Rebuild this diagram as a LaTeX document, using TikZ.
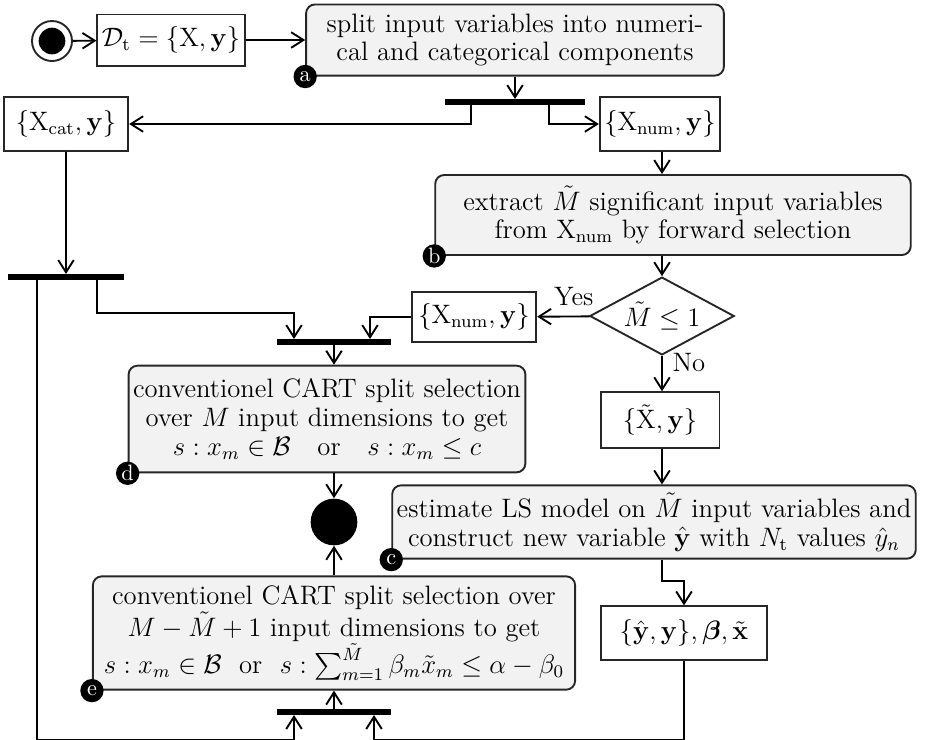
\documentclass[tikz,border=0pt]{standalone}
\usepackage{amsmath,amssymb}
\usetikzlibrary{positioning,arrows.meta,calc,shapes.geometric}

\begin{document}
\begin{tikzpicture}[x=0.45pt,y=-0.45pt,font=\fontsize{12}{13}\selectfont,
 act/.style={draw=black!85,fill=black!5,rounded corners=4pt,line width=0.85pt,align=center,inner sep=2pt},
 obj/.style={draw=black!85,line width=0.85pt,inner sep=2pt},
 cond/.style={diamond,aspect=1.85,draw=black!85,line width=0.85pt,inner sep=0pt,minimum width=65pt,minimum height=35pt},
 bar/.style={fill=black,inner sep=0pt,minimum height=2.3pt},
 lbl/.style={circle,fill=black,text=white,inner sep=0pt,minimum size=10.5pt,font=\normalsize},
 initial/.style={circle,draw=black!85,line width=0.85pt,minimum size=18pt,inner sep=0pt,
   path picture={\fill (path picture bounding box.center) circle (6pt);}},
 final/.style={circle,fill=black,minimum size=21pt,inner sep=0pt},
 arr/.style={-{Straight Barb[length=5.5pt,width=7pt]},line width=0.85pt}]
\useasboundingbox (0,0) rectangle (928,739);
% top row
\node[initial] (start) at (52,41) {};
\node[obj,minimum width=66pt,minimum height=23pt] (data) at (171,40) {$\mathcal{D}_\mathrm{t}=\{\mathrm{X},\mathbf{y}\}$};
\node[act,minimum width=188pt,minimum height=32pt] (split) at (515,40) {split input variables into numeri-\\cal and categorical components};
\node[lbl] at (split.south west) {a};
\node[bar,minimum width=63pt] (fork1) at (515,102) {};
\node[obj,minimum width=56pt,minimum height=24pt] (xcat) at (66,124) {$\{\mathrm{X}_\mathrm{cat},\mathbf{y}\}$};
\node[obj,minimum width=52pt,minimum height=24pt] (xnum) at (660,124) {$\{\mathrm{X}_\mathrm{num},\mathbf{y}\}$};
% right column
\node[act,minimum width=214pt,minimum height=36pt] (extract) at (673,215) {extract $\tilde{M}$ significant input variables\\from $\mathrm{X}_\mathrm{num}$ by forward selection};
\node[lbl] at (extract.south west) {b};
\node[cond] (check) at (662,316) {$\tilde{M}\leq 1$};
\node[obj,minimum width=56pt,minimum height=22.5pt] (xnumb) at (474,317) {$\{\mathrm{X}_\mathrm{num},\mathbf{y}\}$};
\node[obj,minimum width=53.5pt,minimum height=25pt] (xtil) at (660,420) {$\{\tilde{\mathrm{X}},\mathbf{y}\}$};
\node[act,minimum width=231pt,minimum height=33pt] (lsmodel) at (654,522) {estimate LS model on $\tilde{M}$ input variables and\\construct new variable $\hat{\mathbf{y}}$ with $N_\mathrm{t}$ values $\hat{y}_n$};
\node[lbl] at (lsmodel.south west) {c};
\node[obj,minimum width=75pt,minimum height=24pt] (yhat) at (684,633) {$\{\hat{\mathbf{y}},\mathbf{y}\},\boldsymbol{\beta},\tilde{\mathbf{x}}$};
% left column
\node[bar,minimum width=52pt] (fork2) at (66,277) {};
\node[bar,minimum width=51pt] (join1) at (334,342) {};
\node[act,minimum width=160pt,minimum height=48pt] (cart) at (327,419) {conventionel CART split selection\\over $M$ input dimensions to get\\$s:x_m\in\mathcal{B}$\quad or\quad $s:x_m\leq c$};
\node[lbl] at (cart.south west) {d};
\node[final] (end) at (334,522) {};
\node[act,minimum width=217pt,minimum height=51pt] (cartls) at (334,633) {conventionel CART split selection over\\$M-\tilde{M}+1$ input dimensions to get\\$s:x_m\in\mathcal{B}$\ \ or\ \ $s:\sum_{m=1}^{\tilde{M}}\beta_m\tilde{x}_m\leq\alpha-\beta_0$};
\node[lbl] at (cartls.south west) {e};
\node[bar,minimum width=51pt] (join2) at (334,712) {};
% connectors
\draw[arr] (start) -- (data);
\draw[arr] (data) -- (split);
\draw[arr] (split) -- (fork1);
\draw[arr] ($(fork1.south)+(-44,0)$) |- (xcat);
\draw[arr] ($(fork1.south)+(34,0)$) |- (xnum);
\draw[arr] (xnum.south -| check) -- (check.north |- extract.north);
\draw[arr] (check.north |- extract.south) -- (check);
\draw[arr] (check) -- node[pos=0.3,above=1pt] {Yes} (xnumb);
\draw[arr] (check) -- node[pos=0.2,right=1pt] {No} (check.south |- xtil.north);
\draw[arr] (check.south |- xtil.south) -- (check.south |- lsmodel.north);
\draw[arr] (check.south |- lsmodel.south) -- ++(0,21) -| (yhat);
\draw[arr] (xcat) -- (fork2);
\draw[arr] ($(fork2.south)+(31,0)$) |- ($(join1.north)+(-40,-26)$) -- ($(join1.north)+(-40,0)$);
\draw[arr] (xnumb) -| ($(join1.north)+(36,0)$);
\draw[arr] (join1) -- (join1.south |- cart.north);
\draw[arr] (end.north |- cart.south) -- (end);
\draw[arr] (cartls) -- (end);
\draw[arr] (join2) -- (cartls);
\draw[arr] ($(fork2.south)+(-29,0)$) |- ($(join2.south)+(-40,25)$) -- ($(join2.south)+(-40,0)$);
\draw[arr] (yhat) |- ($(join2.south)+(40,25)$) -- ($(join2.south)+(40,0)$);
\end{tikzpicture}
\end{document}
